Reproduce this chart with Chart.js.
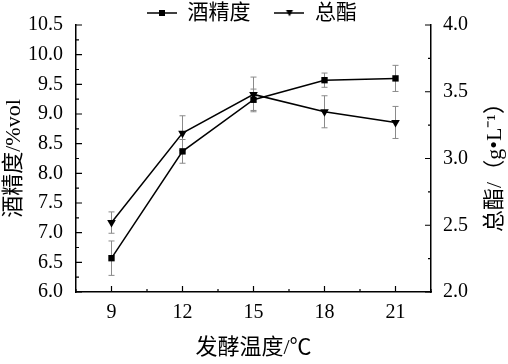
<!DOCTYPE html>
<html>
<head>
<meta charset="utf-8">
<script src="https://cdn.jsdelivr.net/npm/chart.js@4"></script>
<style>
  body { margin: 0; background: #fff; }
</style>
</head>
<body>
<canvas id="grafica" width="508" height="364"></canvas>
<script>
// datos
const temperaturas = [9, 12, 15, 18, 21];
const alcohol = [6.57, 8.37, 9.24, 9.57, 9.60];
const alcoholErr = [0.29, 0.20, 0.18, 0.12, 0.22];
const esteres = [2.52, 3.19, 3.48, 3.35, 3.27];
const esteresErr = [0.08, 0.13, 0.13, 0.12, 0.12];
const etiquetasX = [9, 12, 15, 18, 21];
const etiquetasY = [6.0, 6.5, 7.0, 7.5, 8.0, 8.5, 9.0, 9.5, 10.0, 10.5];
const etiquetasY2 = [2.0, 2.5, 3.0, 3.5, 4.0];

const FUENTE = "'Liberation Serif', 'Noto Sans CJK SC', serif";

// marca de leyenda: línea con el símbolo en medio
function marcaLeyenda(tipo) {
  const c = document.createElement('canvas');
  c.width = 30; c.height = 12;
  const g = c.getContext('2d');
  g.strokeStyle = '#000'; g.lineWidth = 1.5;
  g.beginPath(); g.moveTo(0, 6); g.lineTo(30, 6); g.stroke();
  g.fillStyle = '#000';
  if (tipo === 'rect') {
    g.fillRect(12, 3, 6, 6);
  } else {
    g.beginPath(); g.moveTo(11.5, 3); g.lineTo(18.5, 3); g.lineTo(15, 9.5); g.closePath(); g.fill();
  }
  return c;
}
const marcas = [marcaLeyenda('rect'), marcaLeyenda('tri')];

// barras de error
const erroresPlugin = {
  id: 'errores',
  beforeDatasetsDraw(chart) {
    const ctx = chart.ctx;
    const errores = [alcoholErr, esteresErr];
    ctx.save();
    ctx.strokeStyle = '#8a8a8a';
    ctx.lineWidth = 1;
    chart.data.datasets.forEach((ds, i) => {
      const meta = chart.getDatasetMeta(i);
      const escala = chart.scales[meta.yAxisID];
      meta.data.forEach((p, j) => {
        const v = ds.data[j].y;
        const e = errores[i][j];
        const y1 = escala.getPixelForValue(v + e);
        const y2 = escala.getPixelForValue(v - e);
        ctx.beginPath();
        ctx.moveTo(p.x, y1); ctx.lineTo(p.x, y2);
        ctx.moveTo(p.x - 3, y1); ctx.lineTo(p.x + 3, y1);
        ctx.moveTo(p.x - 3, y2); ctx.lineTo(p.x + 3, y2);
        ctx.stroke();
      });
    });
    ctx.restore();
  }
};

// marcas de escala hacia dentro
const ticksPlugin = {
  id: 'ticksDentro',
  afterDraw(chart) {
    const ctx = chart.ctx;
    const area = chart.chartArea;
    ctx.save();
    ctx.strokeStyle = '#000';
    ctx.lineWidth = 1.2;
    ctx.beginPath();
    const sx = chart.scales.x;
    sx.ticks.forEach(t => {
      const px = sx.getPixelForValue(t.value);
      const len = t.label !== '' ? 6 : 3;
      ctx.moveTo(px, area.bottom); ctx.lineTo(px, area.bottom - len);
    });
    const sy = chart.scales.y;
    sy.ticks.forEach(t => {
      const py = sy.getPixelForValue(t.value);
      const len = t.label !== '' ? 6 : 3;
      ctx.moveTo(area.left, py); ctx.lineTo(area.left + len, py);
    });
    const sy2 = chart.scales.y2;
    sy2.ticks.forEach(t => {
      const py = sy2.getPixelForValue(t.value);
      const len = t.label !== '' ? 6 : 3;
      ctx.moveTo(area.right, py); ctx.lineTo(area.right - len, py);
    });
    ctx.stroke();

    // título del eje derecho (leído de abajo arriba)
    ctx.fillStyle = '#000';
    ctx.font = '22px ' + FUENTE;
    ctx.textAlign = 'center';
    ctx.textBaseline = 'middle';
    ctx.translate(495, 162);
    ctx.rotate(-Math.PI / 2);
    ctx.fillText('总酯/（g•L⁻¹）', 0, 0);
    ctx.restore();
  }
};

// la leyenda se monta sobre el borde superior del área
const leyendaPlugin = {
  id: 'moverLeyenda',
  beforeDraw(chart) {
    const lg = chart.legend;
    const nuevoTop = 13 - lg.options.labels.padding - 21 / 2;
    lg.top = nuevoTop;
    lg.bottom = 32;
    lg.left -= 2;
    lg.right -= 2;
  }
};

new Chart(document.getElementById('grafica'), {
  type: 'line',
  data: {
    datasets: [{
      label: '酒精度',
      data: temperaturas.map((t, i) => ({ x: t, y: alcohol[i] })),
      yAxisID: 'y',
      borderColor: '#000',
      borderWidth: 1.5,
      pointStyle: 'rect',
      pointRadius: 4.5,
      pointBackgroundColor: '#000',
      pointBorderColor: '#000',
      pointBorderWidth: 0,
      tension: 0
    }, {
      label: '总酯',
      data: temperaturas.map((t, i) => ({ x: t, y: esteres[i] })),
      yAxisID: 'y2',
      borderColor: '#000',
      borderWidth: 1.5,
      pointStyle: 'triangle',
      pointRotation: 180,
      pointRadius: 5,
      pointBackgroundColor: '#000',
      pointBorderColor: '#000',
      pointBorderWidth: 0,
      tension: 0
    }]
  },
  options: {
    responsive: false,
    animation: false,
    layout: { padding: { top: 0, left: 0, right: 0, bottom: 0 } },
    plugins: {
      legend: {
        position: 'top',
        maxHeight: 17,
        labels: {
          usePointStyle: true,
          pointStyleWidth: 30,
          padding: 24,
          color: '#000',
          font: { size: 21, family: FUENTE },
          generateLabels: chart => chart.data.datasets.map((ds, i) => ({
            text: ds.label,
            pointStyle: marcas[i],
            rotation: 0,
            datasetIndex: i,
            lineWidth: 0,
            hidden: false,
            fillStyle: '#000',
            strokeStyle: '#000',
            fontColor: '#000'
          }))
        }
      },
      tooltip: { enabled: false }
    },
    scales: {
      x: {
        type: 'linear',
        min: 7.5,
        max: 22.5,
        afterFit: s => { s.height = 72; },
        grid: { drawOnChartArea: false, drawTicks: false },
        border: { color: '#000', width: 1.5 },
        ticks: {
          stepSize: 1.5,
          autoSkip: false,
          maxRotation: 0,
          padding: 9,
          color: '#000',
          font: { size: 20, family: FUENTE },
          callback: v => etiquetasX.includes(v) ? String(v) : ''
        },
        title: {
          display: true,
          text: '发酵温度/℃',
          color: '#000',
          font: { size: 22, family: FUENTE },
          padding: { top: 0, bottom: 3 }
        }
      },
      y: {
        position: 'left',
        min: 6,
        max: 10.5,
        afterFit: s => { s.width = 76; },
        grid: { drawOnChartArea: false, drawTicks: false },
        border: { color: '#000', width: 1.5 },
        ticks: {
          stepSize: 0.25,
          autoSkip: false,
          padding: 13,
          color: '#000',
          font: { size: 20, family: FUENTE },
          callback: v => etiquetasY.includes(v) ? v.toFixed(1) : ''
        },
        title: {
          display: true,
          text: '酒精度/%vol',
          color: '#000',
          font: { size: 22, family: FUENTE },
          padding: { top: 1, bottom: 0 }
        }
      },
      y2: {
        position: 'right',
        min: 2,
        max: 4,
        afterFit: s => { s.width = 77; },
        grid: { drawOnChartArea: false, drawTicks: false },
        border: { color: '#000', width: 1.5 },
        ticks: {
          stepSize: 0.25,
          autoSkip: false,
          padding: 12,
          color: '#000',
          font: { size: 20, family: FUENTE },
          callback: v => etiquetasY2.includes(v) ? v.toFixed(1) : ''
        }
      }
    }
  },
  plugins: [erroresPlugin, ticksPlugin, leyendaPlugin]
});
</script>
</body>
</html>
